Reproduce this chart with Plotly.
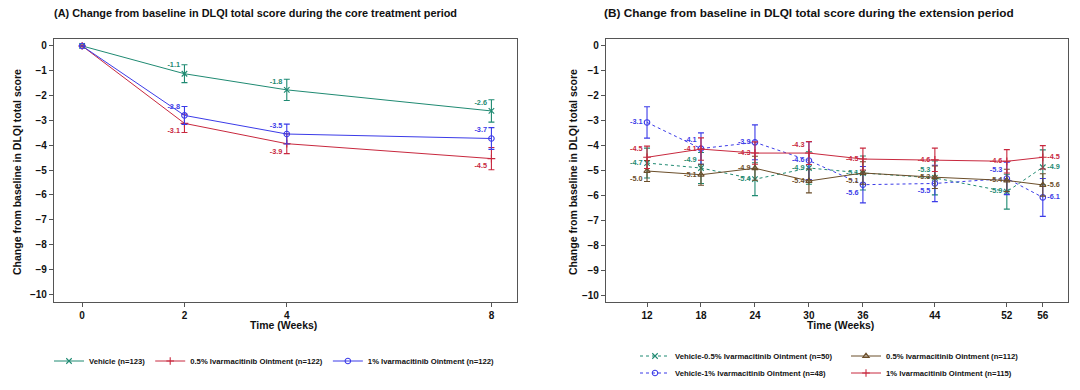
import plotly.graph_objects as go

# ---------------- data ----------------
weeks_core = [0, 2, 4, 8]
core_vehicle = [0, -1.12, -1.77, -2.62]
core_vehicle_err = [0, 0.36, 0.43, 0.45]
core_vehicle_lbl = ["", "-1.1", "-1.8", "-2.6"]
core_p05 = [0, -3.12, -3.94, -4.54]
core_p05_err = [0, 0.37, 0.40, 0.45]
core_p05_lbl = ["", "-3.1", "-3.9", "-4.5"]
core_p1 = [0, -2.80, -3.55, -3.73]
core_p1_err = [0, 0.36, 0.40, 0.44]
core_p1_lbl = ["", "-2.8", "-3.5", "-3.7"]

weeks_ext = [12, 18, 24, 30, 36, 44, 52, 56]
ext_v05 = [-4.70, -4.90, -5.35, -4.90, -5.10, -5.30, -5.85, -4.87]
ext_v05_err = [0.60, 0.62, 0.66, 0.65, 0.68, 0.68, 0.70, 0.70]
ext_v05_lbl = ["-4.7", "-4.9", "-5.4", "-4.9", "-5.1", "-5.3", "-5.9", "-4.9"]
ext_v1 = [-3.07, -4.12, -3.87, -4.60, -5.57, -5.52, -5.32, -6.08]
ext_v1_err = [0.63, 0.63, 0.70, 0.76, 0.73, 0.73, 0.65, 0.76]
ext_v1_lbl = ["-3.1", "-4.1", "-3.9", "-4.6", "-5.6", "-5.5", "-5.3", "-6.1"]
ext_p05 = [-5.02, -5.17, -4.91, -5.42, -5.10, -5.27, -5.40, -5.58]
ext_p05_err = [0.42, 0.42, 0.48, 0.48, 0.45, 0.45, 0.45, 0.45]
ext_p05_lbl = ["-5.0", "-5.1", "-4.9", "-5.4", "-5.1", "-5.3", "-5.4", "-5.6"]
ext_p1 = [-4.47, -4.14, -4.30, -4.30, -4.54, -4.57, -4.63, -4.47]
ext_p1_err = [0.45, 0.45, 0.45, 0.46, 0.44, 0.47, 0.47, 0.47]
ext_p1_lbl = ["-4.5", "-4.1", "-4.3", "-4.3", "-4.5", "-4.6", "-4.6", "-4.5"]

y_ticks = [0, -1, -2, -3, -4, -5, -6, -7, -8, -9, -10]

# ---------------- styles ----------------
TEAL = "#1f8a72"
RED = "#c8283e"
BLUE = "#3b3be8"
BROWN = "#6b4e2a"
FONT = "Liberation Sans"

M, T, B, R = "middle left", "top left", "bottom left", "middle right"
pos_v05 = [M, T, M, M, M, T, M, R]
pos_v1 = [M, T, M, M, B, B, T, R]
pos_p05 = [B, M, M, M, B, M, M, R]
pos_p1 = [T, M, M, T, M, M, M, R]

fig = go.Figure()


def add(x, y, err, lbl, name, color, symbol, dash, xaxis, yaxis, legend, tpos, rank):
    fig.add_trace(go.Scatter(
        x=x, y=y, name=name, mode="lines+markers+text",
        text=lbl, textposition=tpos,
        textfont=dict(family=FONT, size=7.3, color=color, weight="bold"),
        line=dict(color=color, width=1.0, dash=dash),
        marker=dict(symbol=symbol, size=5.5, color=color, line=dict(color=color, width=1.1)),
        error_y=dict(type="data", array=err, visible=True, color=color, thickness=1.1, width=3),
        xaxis=xaxis, yaxis=yaxis, legend=legend, legendrank=rank, cliponaxis=False,
    ))


n_core = len(weeks_core)
add(weeks_core, core_vehicle, core_vehicle_err, core_vehicle_lbl, "Vehicle (n=123)",
    TEAL, "x-thin-open", "solid", "x", "y", "legend", ["top left"] * n_core, 1)
add(weeks_core, core_p05, core_p05_err, core_p05_lbl, "0.5% Ivarmacitinib Ointment (n=122)",
    RED, "cross-thin-open", "solid", "x", "y", "legend", ["bottom left"] * n_core, 2)
add(weeks_core, core_p1, core_p1_err, core_p1_lbl, "1% Ivarmacitinib Ointment (n=122)",
    BLUE, "circle-open", "solid", "x", "y", "legend", ["top left"] * n_core, 3)

add(weeks_ext, ext_v05, ext_v05_err, ext_v05_lbl, "Vehicle-0.5% Ivarmacitinib Ointment (n=50)",
    TEAL, "x-thin-open", "dot", "x2", "y2", "legend2", pos_v05, 1)
add(weeks_ext, ext_v1, ext_v1_err, ext_v1_lbl, "Vehicle-1% Ivarmacitinib Ointment (n=48)",
    BLUE, "circle-open", "dot", "x2", "y2", "legend3", pos_v1, 1)
add(weeks_ext, ext_p05, ext_p05_err, ext_p05_lbl, "0.5% Ivarmacitinib Ointment (n=112)",
    BROWN, "triangle-up-open", "solid", "x2", "y2", "legend2", pos_p05, 2)
add(weeks_ext, ext_p1, ext_p1_err, ext_p1_lbl, "1% Ivarmacitinib Ointment (n=115)",
    RED, "cross-thin-open", "solid", "x2", "y2", "legend3", pos_p1, 2)

tickfont = dict(family=FONT, size=10, color="#111", weight="bold")
axis_common = dict(showline=True, mirror=True, linecolor="#555", linewidth=1.3,
                   ticks="outside", ticklen=4, tickcolor="#555", showgrid=False,
                   zeroline=False, tickfont=tickfont)

legend_font = dict(family=FONT, size=7.7, color="#111", weight="bold")
top, bottom = 1 - 39 / 390, 1 - 302 / 390
fig.update_layout(
    width=1080, height=390,
    margin=dict(l=0, r=0, t=0, b=0),
    paper_bgcolor="white", plot_bgcolor="white",
    font=dict(family=FONT, color="#111"),
    xaxis=dict(domain=[54 / 1080, 517 / 1080], range=[-0.55, 8.5],
               tickvals=weeks_core, anchor="y", **axis_common),
    yaxis=dict(domain=[bottom, top], range=[-10.32, 0.28], tickvals=y_ticks,
               anchor="x", **axis_common),
    xaxis2=dict(domain=[606 / 1080, 1068 / 1080], range=[7.44, 58.8],
                tickvals=weeks_ext, anchor="y2", **axis_common),
    yaxis2=dict(domain=[bottom, top], range=[-10.28, 0.28], tickvals=y_ticks,
                anchor="x2", **axis_common),
    legend=dict(orientation="h", x=49 / 1080, y=1 - 361 / 390, xanchor="left", yanchor="middle",
                font=legend_font, bgcolor="rgba(0,0,0,0)", itemwidth=30),
    legend2=dict(orientation="h", x=635 / 1080, y=1 - 356 / 390, xanchor="left", yanchor="middle",
                 font=legend_font, bgcolor="rgba(0,0,0,0)", entrywidth=166, entrywidthmode="pixels"),
    legend3=dict(orientation="h", x=635 / 1080, y=1 - 373 / 390, xanchor="left", yanchor="middle",
                 font=legend_font, bgcolor="rgba(0,0,0,0)", entrywidth=166, entrywidthmode="pixels"),
)

axis_title_font = dict(family=FONT, size=10.5, color="#111", weight="bold")
annotations = [
    dict(text="(A) Change from baseline in DLQI total score during the core treatment period",
         x=52 / 1080, y=1 - 13 / 390, xanchor="left", yanchor="middle",
         font=dict(family=FONT, size=10.9, color="#111", weight="bold")),
    dict(text="(B) Change from baseline in DLQI total score during the extension period",
         x=602 / 1080, y=1 - 13 / 390, xanchor="left", yanchor="middle",
         font=dict(family=FONT, size=11.8, color="#111", weight="bold")),
    dict(text="Change from baseline in DLQI total score", textangle=-90,
         x=17 / 1080, y=1 - 172 / 390, xanchor="center", yanchor="middle", font=axis_title_font),
    dict(text="Change from baseline in DLQI total score", textangle=-90,
         x=573 / 1080, y=1 - 172 / 390, xanchor="center", yanchor="middle", font=axis_title_font),
    dict(text="Time (Weeks)", x=283 / 1080, y=1 - 325 / 390, xanchor="center", yanchor="middle",
         font=axis_title_font),
    dict(text="Time (Weeks)", x=840 / 1080, y=1 - 325 / 390, xanchor="center", yanchor="middle",
         font=axis_title_font),
]
for a in annotations:
    a.update(xref="paper", yref="paper", showarrow=False)
fig.update_layout(annotations=annotations)

fig.write_html("out.html", config={"displayModeBar": False},
               post_script="document.body.style.margin='0px';")
